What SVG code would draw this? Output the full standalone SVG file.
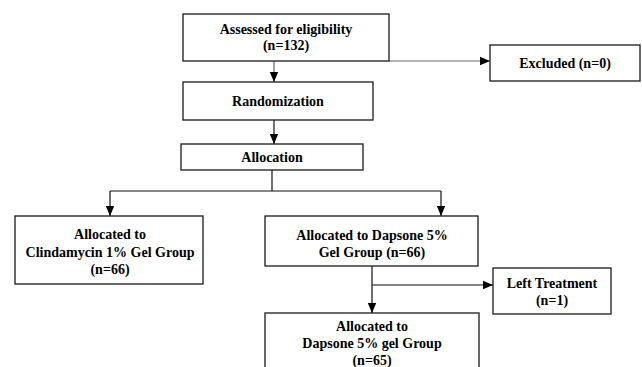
<svg xmlns="http://www.w3.org/2000/svg" width="642" height="367" viewBox="0 0 642 367">
  <defs>
    <marker id="ah" markerUnits="userSpaceOnUse" markerWidth="10" markerHeight="10" viewBox="0 0 10 10" refX="10" refY="5" orient="auto">
      <path d="M0,0.8 L10,5 L0,9.2 Z" fill="#000"/>
    </marker>
    <style>
      .box { fill: #fff; stroke: #1a1a1a; stroke-width: 1.3; }
      .t { font-family: "Liberation Serif", "Times New Roman", serif; font-weight: bold; font-size: 14px; fill: #000; text-anchor: middle; }
      .ln { fill: none; stroke: #111; stroke-width: 1.2; }
      .lg { fill: none; stroke: #666; stroke-width: 1.2; }
      .arr { marker-end: url(#ah); }
    </style>
  </defs>
  <rect width="642" height="367" fill="#fff"/>

  <g id="connectors">
    <line class="lg arr" x1="274" y1="61" x2="274" y2="82"/>
    <line class="lg arr" x1="389" y1="61" x2="490" y2="61"/>
    <line class="ln arr" x1="274" y1="120" x2="274" y2="144"/>
    <line class="ln" x1="272" y1="170" x2="272" y2="191"/>
    <line class="ln" x1="110" y1="191" x2="441" y2="191"/>
    <line class="ln arr" x1="110" y1="191" x2="110" y2="216"/>
    <line class="ln arr" x1="441" y1="191" x2="441" y2="216"/>
    <line class="ln arr" x1="372" y1="266" x2="372" y2="313"/>
    <line class="ln arr" x1="372" y1="285" x2="493" y2="285"/>
  </g>

  <g id="assessed">
    <rect class="box" x="183" y="14" width="206" height="47"/>
    <text class="t" x="286" y="34">Assessed for eligibility</text>
    <text class="t" x="286" y="50">(n=132)</text>
  </g>
  <g id="excluded">
    <rect class="box" x="490" y="45" width="150" height="36"/>
    <text class="t" x="565" y="68">Excluded (n=0)</text>
  </g>
  <g id="randomization">
    <rect class="box" x="183" y="82" width="190" height="38"/>
    <text class="t" x="278" y="106">Randomization</text>
  </g>
  <g id="allocation">
    <rect class="box" x="181" y="144" width="182" height="26"/>
    <text class="t" x="272" y="162">Allocation</text>
  </g>
  <g id="clindamycin">
    <rect class="box" x="15" y="216" width="188" height="68"/>
    <text class="t" x="110" y="239">Allocated to</text>
    <text class="t" x="110" y="257">Clindamycin 1% Gel Group</text>
    <text class="t" x="110" y="274">(n=66)</text>
  </g>
  <g id="dapsone">
    <rect class="box" x="265" y="216" width="213" height="50"/>
    <text class="t" x="372" y="240">Allocated to Dapsone 5%</text>
    <text class="t" x="372" y="257">Gel Group (n=66)</text>
  </g>
  <g id="left-treatment">
    <rect class="box" x="493" y="268" width="118" height="46"/>
    <text class="t" x="552" y="288">Left Treatment</text>
    <text class="t" x="552" y="305">(n=1)</text>
  </g>
  <g id="dapsone-final">
    <rect class="box" x="265" y="313" width="214" height="62"/>
    <text class="t" x="372" y="331">Allocated to</text>
    <text class="t" x="372" y="348">Dapsone 5% gel Group</text>
    <text class="t" x="372" y="365">(n=65)</text>
  </g>
</svg>
